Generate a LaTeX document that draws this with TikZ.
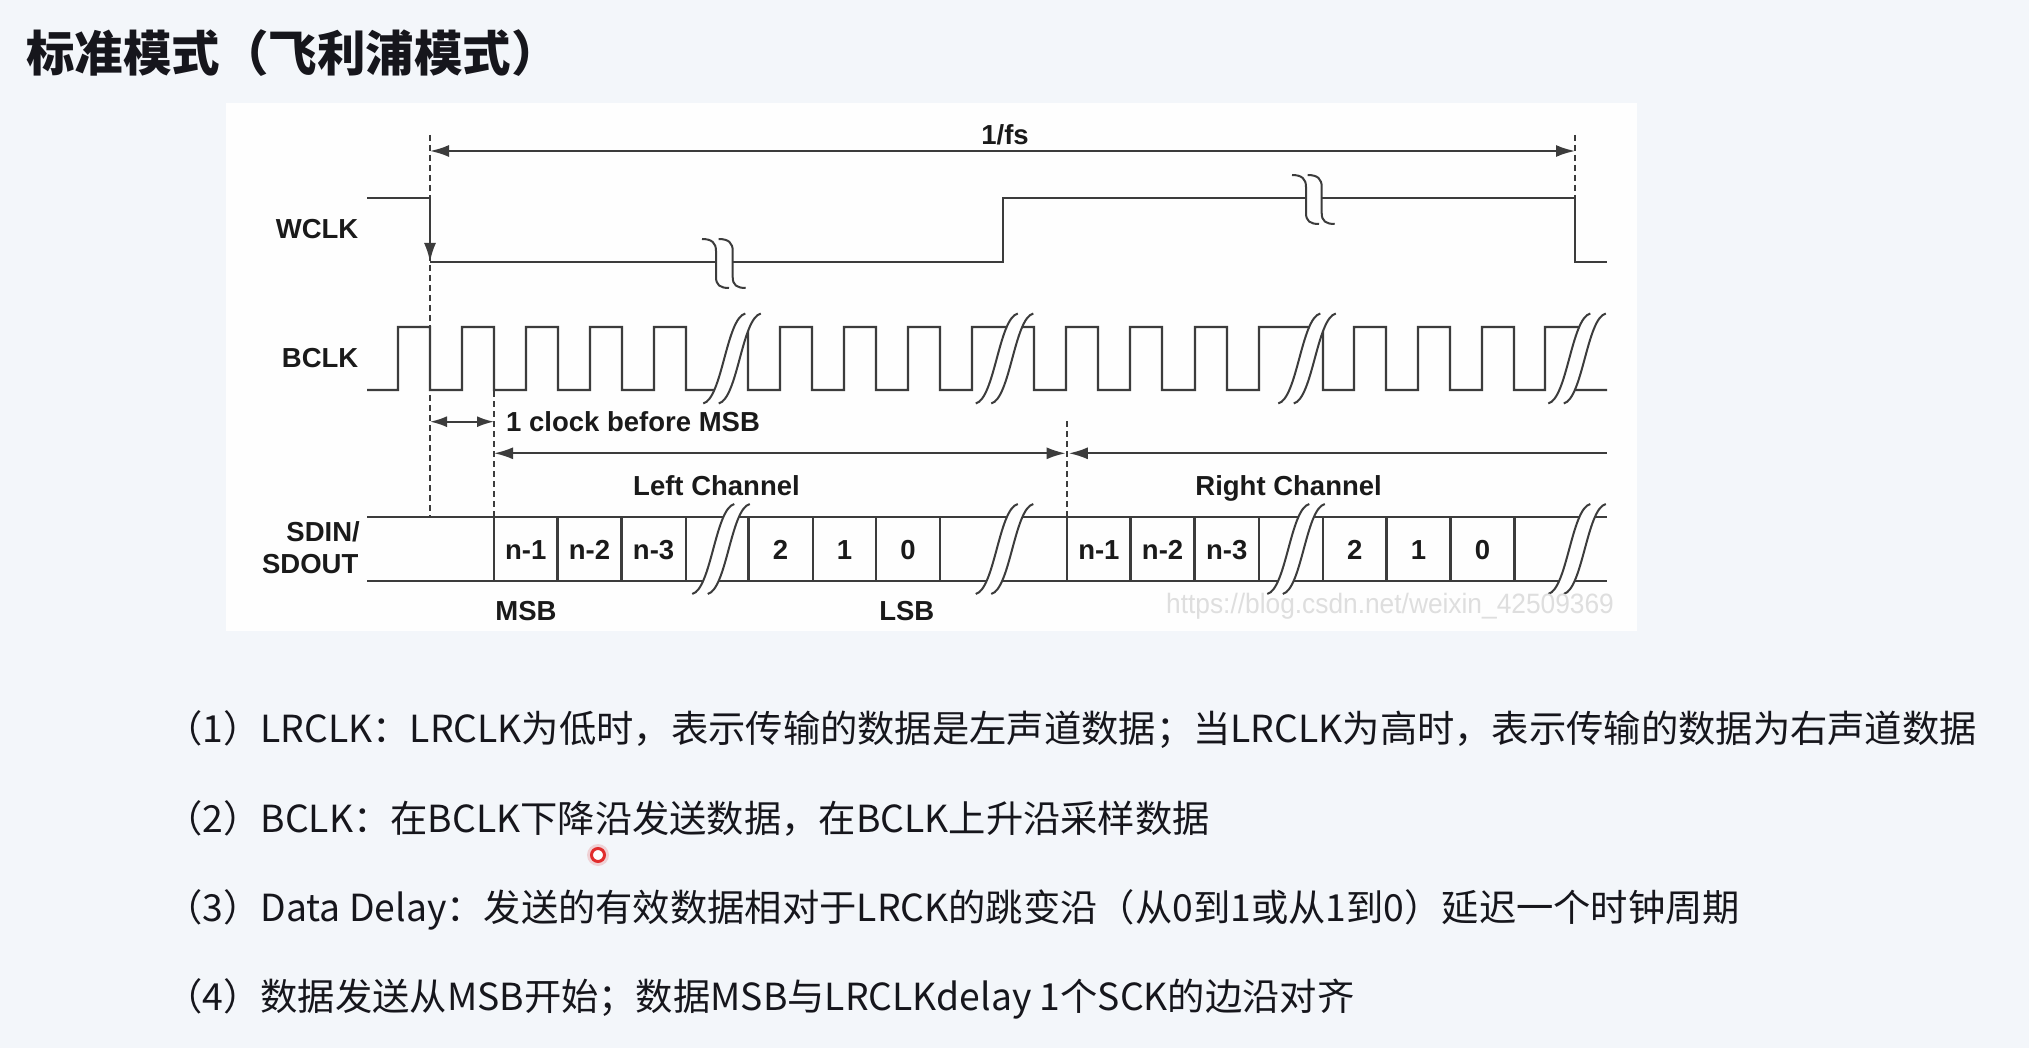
\documentclass[tikz,border=0pt]{standalone}
\usepackage{fontspec}
\usepackage{graphicx}
\setmainfont{Liberation Sans}
\newfontfamily\cjk{Noto Sans CJK SC}
\usetikzlibrary{arrows.meta}
\definecolor{pagebg}{RGB}{243,246,250}
\definecolor{panelbg}{RGB}{254,254,254}
\definecolor{sig}{RGB}{60,60,60}
\definecolor{lbl}{RGB}{26,26,26}
\definecolor{wm}{RGB}{222,222,222}
\definecolor{bodytxt}{RGB}{22,22,28}
\definecolor{dotred}{RGB}{225,45,45}
\tikzset{
  wave/.style={draw=sig, line width=2.4pt, line join=miter},
  brkline/.style={draw=sig, line width=2pt},
  dashln/.style={draw=sig, line width=1.6pt, dash pattern=on 6pt off 4pt},
  dimline/.style={draw=sig, line width=2pt},
  tipa/.tip={Latex[length=19pt,width=12pt]},
  lab/.style={text=lbl, font=\fontsize{27.5}{30}\selectfont\bfseries, inner sep=0pt, anchor=base},
  bodyline/.style={text=bodytxt, font=\cjk\fontsize{37.3}{45}\selectfont, inner sep=0pt, anchor=base west},
}
% S-shaped break pair: #1 = centre x, #2 = centre y
\newcommand\sigbreakS[2]{%
  \fill[panelbg] (#1-28.75,#2+45) .. controls (#1-9.75,#2+40) and (#1-5.75,#2-40) .. (#1+13.25,#2-45)
     -- (#1+28.75,#2-45) .. controls (#1+9.75,#2-40) and (#1+5.75,#2+40) .. (#1-13.25,#2+45) -- cycle;
  \draw[brkline] (#1-28.75,#2+45) .. controls (#1-9.75,#2+40) and (#1-5.75,#2-40) .. (#1+13.25,#2-45);
  \draw[brkline] (#1-13.25,#2+45) .. controls (#1+5.75,#2+40) and (#1+9.75,#2-40) .. (#1+28.75,#2-45);
}
% hook-shaped break pair on a horizontal line: #1 left x, #2 right x, #3 line y
\newcommand\sigbreakW[3]{%
  \fill[panelbg] (#1,#3-5) rectangle (#2,#3+5);
  \draw[brkline] (#1-14,#3-23) .. controls (#1-4,#3-23) and (#1,#3-19) .. (#1,#3-11) -- (#1,#3+15)
     .. controls (#1,#3+23) and (#1+4,#3+26) .. (#1+13,#3+26);
  \draw[brkline] (#2-14,#3-23) .. controls (#2-4,#3-23) and (#2,#3-19) .. (#2,#3-11) -- (#2,#3+15)
     .. controls (#2,#3+23) and (#2+4,#3+26) .. (#2+13,#3+26);
}
\begin{document}
\begin{tikzpicture}[x=1pt,y=-1pt]
\useasboundingbox (0,0) rectangle (2029,1048);
\fill[pagebg] (0,0) rectangle (2029,1048);
\fill[panelbg] (226,103) rectangle (1637,631);

% title
\node[text=bodytxt, font=\cjk\bfseries\fontsize{48.5}{56}\selectfont, inner sep=0pt, anchor=base west] (title) at (26,72) {标准模式（飞利浦模式）};

% ---------- WCLK ----------
\draw[wave] (367,198) -- (430,198);
\draw[wave, -{tipa}] (430,198) -- (430,262);
\draw[wave] (430,262) -- (1003,262) -- (1003,198) -- (1575,198) -- (1575,262) -- (1607,262);
\sigbreakW{716}{732.7}{262}
\sigbreakW{1306}{1321.7}{198}

% ---------- BCLK ----------
\draw[wave] (367,390) -- (398,390) -- (398,327) -- (430,327) -- (430,390) -- (462,390) -- (462,327)
  -- (494,327) -- (494,390) -- (526,390) -- (526,327) -- (558,327) -- (558,390) -- (590,390)
  -- (590,327) -- (622,327) -- (622,390) -- (654,390) -- (654,327) -- (686,327) -- (686,390)
  -- (723.5,390) -- (740.5,327) -- (748,327) -- (748,390) -- (780,390) -- (780,327) -- (812,327)
  -- (812,390) -- (844,390) -- (844,327) -- (876,327) -- (876,390) -- (908,390) -- (908,327)
  -- (940,327) -- (940,390) -- (972,390) -- (972,327) -- (1034,327) -- (1034,390) -- (1066,390)
  -- (1066,327) -- (1098,327) -- (1098,390) -- (1130,390) -- (1130,327) -- (1162,327) -- (1162,390)
  -- (1195,390) -- (1195,327) -- (1227,327) -- (1227,390) -- (1259,390) -- (1259,327) -- (1323,327)
  -- (1323,390) -- (1354,390) -- (1354,327) -- (1386,327) -- (1386,390) -- (1418,390) -- (1418,327)
  -- (1450,327) -- (1450,390) -- (1482,390) -- (1482,327) -- (1514,327) -- (1514,390) -- (1545,390)
  -- (1545,327) -- (1586.5,327) -- (1569.5,390) -- (1607,390);
\sigbreakS{732}{358.5}
\sigbreakS{1004.5}{358.5}
\sigbreakS{1307}{358.5}
\sigbreakS{1577}{358.5}

% ---------- SDIN / SDOUT ----------
\draw[wave] (367,516.7) -- (1607,516.7);
\draw[wave] (367,581) -- (1607,581);
\foreach \bx in {494,557.5,621.5,685.7,748.3,813,876,940,1067.2,1130.6,1194.6,1259,1323,1386.4,1450.4,1514.4}
  \draw[wave] (\bx,516.7) -- (\bx,581);
\sigbreakS{721}{549}
\sigbreakS{1004.5}{549}
\sigbreakS{1296}{549}
\sigbreakS{1577}{549}

% ---------- dashed guides ----------
\draw[dashln] (430,135) -- (430,516.7);
\draw[dashln] (494,391) -- (494,516.7);
\draw[dashln] (1067.2,421) -- (1067.2,516.7);
\draw[dashln] (1575,135) -- (1575,198);

% ---------- dimension arrows ----------
\draw[dimline, {tipa}-{tipa}] (430,151) -- (1575,151);
\draw[dimline, {Latex[length=17pt,width=11pt]}-{Latex[length=17pt,width=11pt]}] (430,421.7) -- (494,421.7);
\draw[dimline, {tipa}-{tipa}] (494,453.3) -- (1065.6,453.3);
\draw[dimline, {tipa}-] (1068.8,453.3) -- (1607,453.3);

% ---------- labels ----------
\node[lab, anchor=base east] (wclk) at (358.5,239) {WCLK};
\node[lab, anchor=base east] (bclk) at (358.5,367) {BCLK};
\node[lab, anchor=base east] (sdin) at (360,541.7) {SDIN/};
\node[lab, anchor=base east] (sdout) at (358.5,573.3) {SDOUT};
\node[lab] (fs) at (1005,145) {1/fs};
\node[lab, anchor=base west] (oneclk) at (506,431) {1 clock before MSB};
\node[lab] (leftch) at (716.5,495) {Left Channel};
\node[lab] (rightch) at (1288.6,495) {Right Channel};
\node[lab] (l1) at (525.8,559) {n-1};
\node[lab] (l2) at (589.5,559) {n-2};
\node[lab] (l3) at (653.6,559) {n-3};
\node[lab] (l4) at (780.6,559) {2};
\node[lab] (l5) at (844.5,559) {1};
\node[lab] (l6) at (908,559) {0};
\node[lab] (r1) at (1098.9,559) {n-1};
\node[lab] (r2) at (1162.6,559) {n-2};
\node[lab] (r3) at (1226.8,559) {n-3};
\node[lab] (r4) at (1354.7,559) {2};
\node[lab] (r5) at (1418.4,559) {1};
\node[lab] (r6) at (1482.4,559) {0};
\node[lab] (msb) at (526,620) {MSB};
\node[lab] (lsb) at (906.8,620) {LSB};
\node[text=wm, font=\fontsize{28}{30}\selectfont, inner sep=0pt, anchor=base] (wmark) at (1390,613) {\scalebox{0.94}[1]{https://blog.csdn.net/weixin\_42509369}};

% ---------- notes ----------
\node[bodyline] (n1) at (165,742.5) {（1）LRCLK：LRCLK为低时，表示传输的数据是左声道数据；当LRCLK为高时，表示传输的数据为右声道数据};
\node[bodyline] (n2) at (165,832) {（2）BCLK：在BCLK下降沿发送数据，在BCLK上升沿采样数据};
\node[bodyline] (n3) at (165,921) {（3）Data Delay：发送的有效数据相对于LRCK的跳变沿（从0到1或从1到0）延迟一个时钟周期};
\node[bodyline] (n4) at (165,1010) {（4）数据发送从MSB开始；数据MSB与LRCLKdelay 1个SCK的边沿对齐};

% cursor mark
\fill[dotred, opacity=0.18] (598,855) circle (11);
\node[circle, draw=dotred, line width=3pt, fill=white, minimum size=13pt, inner sep=0pt] (cursor) at (598,855) {};
\end{tikzpicture}
\end{document}
